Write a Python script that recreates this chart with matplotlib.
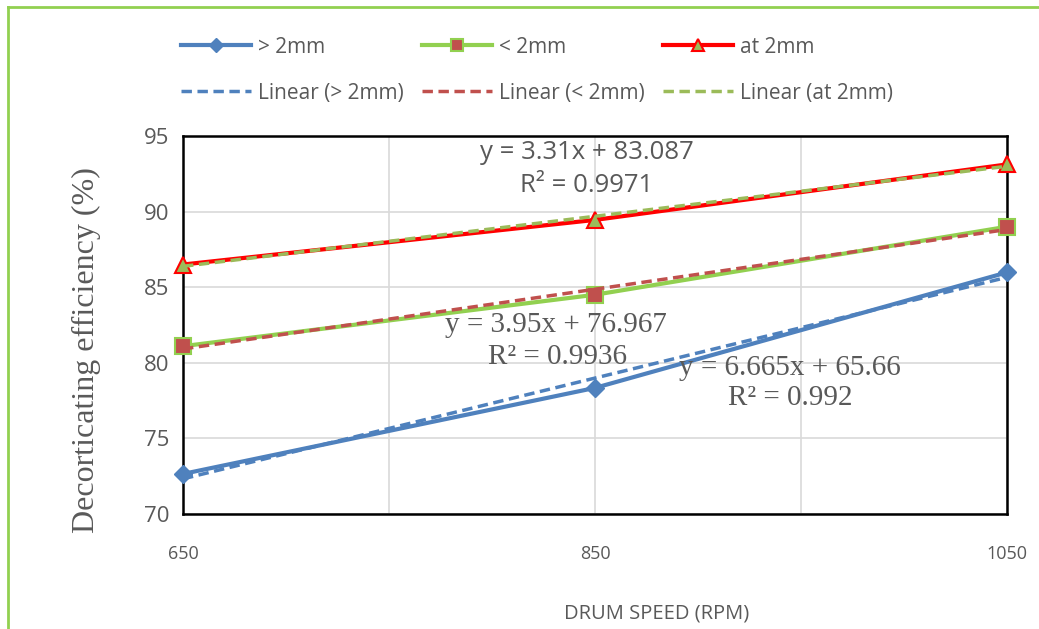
import matplotlib
matplotlib.use("Agg")
import matplotlib.pyplot as plt
from matplotlib.lines import Line2D
import numpy as np

# ---- data ----
drum_speed = [650, 850, 1050]
gt_2mm = [72.65, 78.34, 85.98]
lt_2mm = [81.1, 84.5, 89.0]
at_2mm = [86.5, 89.45, 93.12]
xtick_labels = ["650", "850", "1050"]
eq_gt = ["y = 6.665x + 65.66", "R² = 0.992"]
eq_lt = ["y = 3.95x + 76.967", "R² = 0.9936"]
eq_at = ["y = 3.31x + 83.087", "R² = 0.9971"]

W, H = 1039, 629
fig = plt.figure(figsize=(W / 100, H / 100), dpi=100)
fig.patch.set_facecolor("white")

def fx(px):
    return px / W

def fy(py):
    return 1 - py / H

ax = fig.add_axes([fx(183), fy(514), fx(1007) - fx(183), fy(136) - fy(514)])
grey = "#595959"
blue = "#4F81BD"
lgreen = "#92D050"
brick = "#C0504D"
olive = "#9BBB59"
red = "#FF0000"

x = np.array(drum_speed, dtype=float)

# trendlines (least-squares fit of data)
def trend(y):
    p = np.polyfit(x, np.array(y, dtype=float), 1)
    return np.polyval(p, x)

l1, = ax.plot(x, gt_2mm, color=blue, lw=3, marker="D", ms=9.5, mfc=blue, mec=blue, zorder=4, clip_on=False)
l2, = ax.plot(x, lt_2mm, color=lgreen, lw=3, marker="s", ms=11.5, mfc=brick, mec=lgreen, mew=1.5, zorder=4, clip_on=False)
l3, = ax.plot(x, at_2mm, color=red, lw=3, marker="^", ms=12, mfc=olive, mec=red, mew=1.5, zorder=4, clip_on=False)
t1, = ax.plot(x, trend(gt_2mm), color=blue, lw=2.5, ls=(0, (3, 1.6)), zorder=5)
t2, = ax.plot(x, trend(lt_2mm), color=brick, lw=2.5, ls=(0, (3, 1.6)), zorder=5)
t3, = ax.plot(x, trend(at_2mm), color=olive, lw=2.5, ls=(0, (3, 1.6)), zorder=5)

ax.set_xlim(650, 1050)
ax.set_ylim(70, 95)
ax.set_yticks([70, 75, 80, 85, 90, 95])
ax.set_xticks(drum_speed)
ax.set_xticklabels(xtick_labels)
ax.set_xticks([750, 950], minor=True)
ax.grid(True, which="both", color="#D9D9D9", lw=1.2, zorder=0)
ax.set_axisbelow(True)
for s in ax.spines.values():
    s.set_color("black")
    s.set_linewidth(1.8)
ax.tick_params(which="both", length=0)
ax.tick_params(axis="y", pad=10, labelsize=16, labelcolor=grey)
ax.tick_params(axis="x", pad=22, labelsize=13, labelcolor=grey)
for lab in ax.get_yticklabels() + ax.get_xticklabels():
    lab.set_fontfamily("Open Sans")

ax.set_ylabel("Decorticating efficiency (%)", family="Liberation Serif", fontsize=23, color=grey)
ax.yaxis.set_label_coords(-0.10, 0.434)
fig.text(fx(657), fy(613), "DRUM SPEED (RPM)", ha="center", va="center", fontsize=14.5,
         color=grey, family="Open Sans")

# equations
fig.text(fx(587), fy(152), eq_at[0], ha="center", va="center", fontsize=18.5, color=grey, family="Open Sans")
fig.text(fx(587), fy(186), eq_at[1], ha="center", va="center", fontsize=18.5, color=grey, family="Open Sans")
fig.text(fx(556), fy(325), eq_lt[0], ha="center", va="center", fontsize=21, color=grey, family="Liberation Serif")
fig.text(fx(557), fy(357), eq_lt[1], ha="center", va="center", fontsize=21, color=grey, family="Liberation Serif")
fig.text(fx(790), fy(368), eq_gt[0], ha="center", va="center", fontsize=21, color=grey, family="Liberation Serif")
fig.text(fx(790), fy(398), eq_gt[1], ha="center", va="center", fontsize=21, color=grey, family="Liberation Serif")

# legend
handles = [l1, t1, l2, t2, l3, t3]
labels = ["> 2mm", "Linear (> 2mm)", "< 2mm", "Linear (< 2mm)", "at 2mm", "Linear (at 2mm)"]
leg = fig.legend(handles, labels, ncol=3, frameon=False, loc="upper left",
                 bbox_to_anchor=(fx(162), fy(18)), handlelength=3.37, handletextpad=0.33,
                 columnspacing=0.87, labelspacing=1.2, markerscale=0.75,
                 prop={"family": "Open Sans", "size": 15})
for t in leg.get_texts():
    t.set_color(grey)

# outer green border
fig.add_artist(Line2D([fx(8), fx(8)], [fy(7), 0], color=lgreen, lw=2, transform=fig.transFigure))
fig.add_artist(Line2D([fx(8), 1], [fy(7), fy(7)], color=lgreen, lw=2, transform=fig.transFigure))

fig.savefig("out.png", dpi=100, facecolor="white")
